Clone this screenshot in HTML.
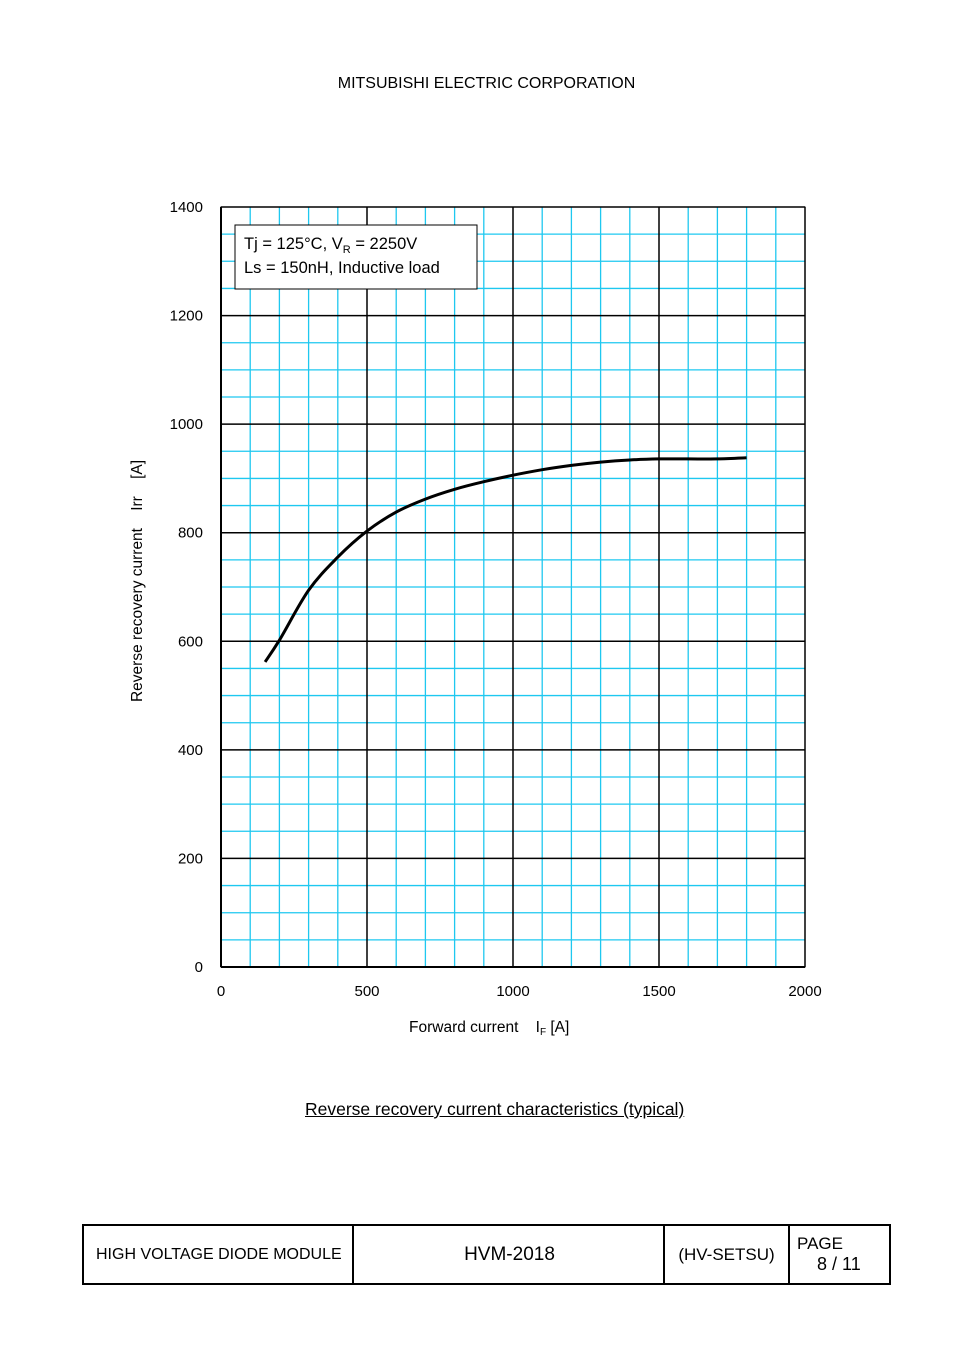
<!DOCTYPE html>
<html><head><meta charset="utf-8"><style>
body{margin:0;background:#fff;font-family:"Liberation Sans",Arial,sans-serif;}
#page{position:relative;width:954px;height:1350px;overflow:hidden;}
.t{position:absolute;color:#000;white-space:nowrap;}
</style></head><body>
<div id="page">
<div class="t" style="left:0;width:973px;text-align:center;top:75px;font-size:16px;">MITSUBISHI ELECTRIC CORPORATION</div>
<svg id="chart" width="954" height="1100" style="position:absolute;left:0;top:0" font-family="Liberation Sans, Arial, sans-serif"></svg>
<div class="t" style="left:305px;top:1099px;font-size:17.5px;text-decoration:underline;">Reverse recovery current characteristics (typical)</div>
<div style="position:absolute;left:82px;top:1224px;width:805px;height:57px;border:2px solid #000;">
 <div style="position:absolute;left:0;top:0;width:270px;height:57px;border-right:2px solid #000;font-size:16px;line-height:57px;padding-left:12px;box-sizing:border-box;">HIGH VOLTAGE DIODE MODULE</div>
 <div style="position:absolute;left:272px;top:0;width:307px;height:57px;border-right:2px solid #000;font-size:19px;line-height:57px;text-align:center;">HVM-2018</div>
 <div style="position:absolute;left:581px;top:0;width:123px;height:57px;border-right:2px solid #000;font-size:17px;line-height:57px;text-align:center;">(HV-SETSU)</div>
 <div style="position:absolute;left:713px;top:8px;font-size:17px;line-height:20px;">PAGE</div>
 <div style="position:absolute;left:733px;top:28px;font-size:18px;line-height:20px;white-space:nowrap;">8 / 11</div>
</div>
</div>
<script>
const xTicks=[0,500,1000,1500,2000];
const yTicks=[0,200,400,600,800,1000,1200,1400];
const curveX=[151,200,300,400,500,600,700,800,900,1000,1100,1200,1300,1400,1500,1600,1700,1800];
const curveY=[562,602,694,755,803,838,862,880,894,906,916,924,930,934,936,936,936,938];
const NS='http://www.w3.org/2000/svg';
const svg=document.getElementById('chart');
const X0=221,X1=805,Y0=967,Y1=207;
const sx=v=>X0+(v-0)/2000*(X1-X0);
const sy=v=>Y0-(v-0)/1400*(Y0-Y1);
function mk(tag,attrs){const e=document.createElementNS(NS,tag);for(const k in attrs)e.setAttribute(k,attrs[k]);svg.appendChild(e);return e;}
for(let v=100;v<2000;v+=100){if(v%500===0)continue;const l=mk('line',{x1:sx(v),x2:sx(v),y1:Y1,y2:Y0,stroke:'#1ec8f0','stroke-width':1.3});

}
for(let v=50;v<1400;v+=50){if(v%200===0)continue;const l=mk('line',{x1:X0,x2:X1,y1:sy(v),y2:sy(v),stroke:'#1ec8f0','stroke-width':1.3});

}
xTicks.forEach(v=>{const l=mk('line',{x1:sx(v),x2:sx(v),y1:Y1,y2:Y0,stroke:'#000','stroke-width':(v===0?2:1.5)});


const t=mk('text',{x:sx(v),y:996,'font-size':15,'text-anchor':'middle'});t.textContent=v;

});
yTicks.forEach(v=>{const l=mk('line',{x1:X0,x2:X1,y1:sy(v),y2:sy(v),stroke:'#000','stroke-width':(v===0?2:1.5)});


const t=mk('text',{x:203,y:sy(v)+5,'font-size':15,'text-anchor':'end'});t.textContent=v;

});
const fr=mk('rect',{x:X0,y:Y1,width:X1-X0,height:Y0-Y1,fill:'none',stroke:'#000','stroke-width':1});


const lb=mk('rect',{x:235,y:225,width:242,height:64,fill:'#fff',stroke:'#000','stroke-width':1});


const t1=mk('text',{x:244,y:249,'font-size':16.5});
t1.innerHTML='Tj = 125°C, V<tspan font-size="11" dy="4">R</tspan><tspan dy="-4"> = 2250V</tspan>';


const t2=mk('text',{x:244,y:273,'font-size':16.5});t2.textContent='Ls = 150nH, Inductive load';


// smooth curve (Catmull-Rom)
const pts=curveX.map((v,i)=>[sx(v),sy(curveY[i])]);
let d='M'+pts[0][0].toFixed(1)+','+pts[0][1].toFixed(1);
for(let i=0;i<pts.length-1;i++){const p0=pts[i-1]||pts[i],p1=pts[i],p2=pts[i+1],p3=pts[i+2]||p2;
const c1=[p1[0]+(p2[0]-p0[0])/6,p1[1]+(p2[1]-p0[1])/6],c2=[p2[0]-(p3[0]-p1[0])/6,p2[1]-(p3[1]-p1[1])/6];
d+='C'+c1.map(n=>n.toFixed(1)).join(',')+' '+c2.map(n=>n.toFixed(1)).join(',')+' '+p2.map(n=>n.toFixed(1)).join(',');}
const p=mk('path',{d:d,fill:'none',stroke:'#000','stroke-width':3,'stroke-linejoin':'round'});


const xt=mk('text',{x:409,y:1032,'font-size':15.5});
xt.innerHTML='Forward current \u00a0\u00a0\u00a0I<tspan font-size="10" dy="3">F</tspan><tspan dy="-3"> [A]</tspan>';


const yt=mk('text',{x:0,y:0,'font-size':15.5,'text-anchor':'middle',transform:'translate(142,581) rotate(-90)'});
yt.textContent='Reverse recovery current\u00a0\u00a0\u00a0\u00a0Irr\u00a0\u00a0\u00a0\u00a0[A]';


</script>
</body></html>
